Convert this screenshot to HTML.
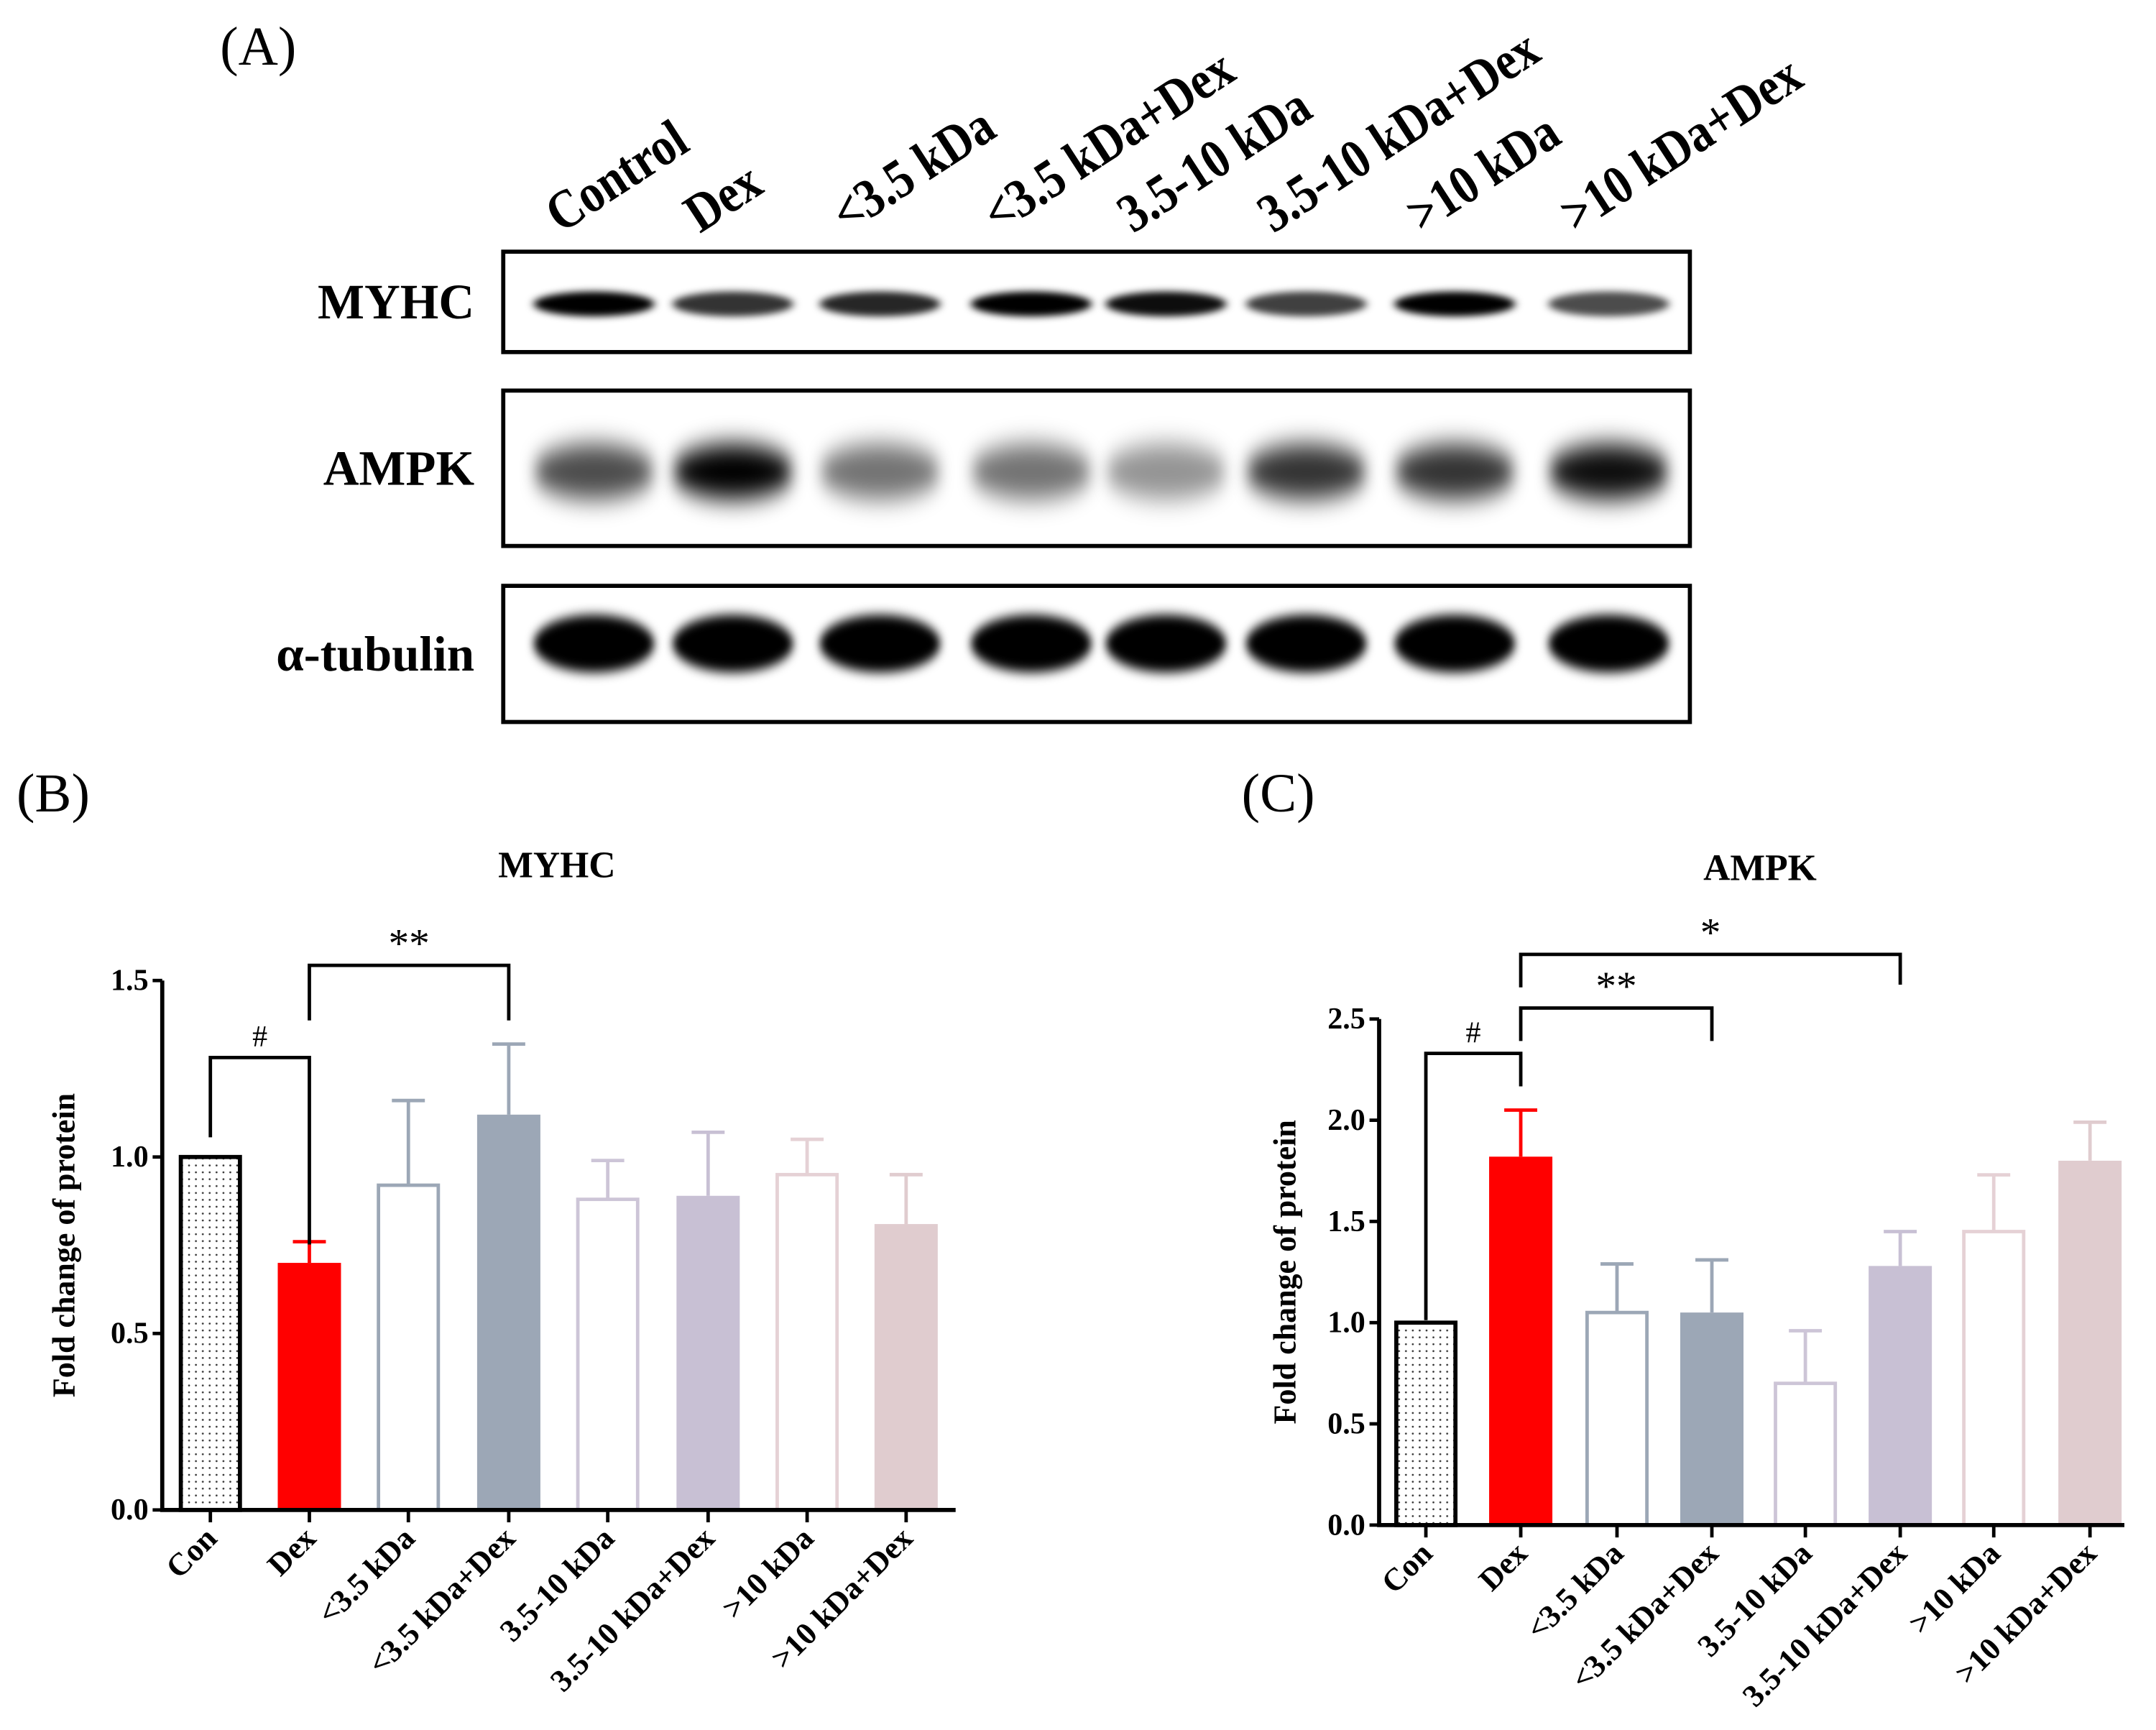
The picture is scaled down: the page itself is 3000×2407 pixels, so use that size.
<!DOCTYPE html>
<html><head><meta charset="utf-8"><style>
html,body{margin:0;padding:0;background:#fff}
svg{display:block}
text{font-family:"Liberation Serif","DejaVu Serif",serif}
</style></head><body>
<svg id="fig" width="3000" height="2407" viewBox="0 0 1568 1258" xmlns="http://www.w3.org/2000/svg">
<defs>
<pattern id="dots" width="5" height="5" patternUnits="userSpaceOnUse"><rect width="5" height="5" fill="#fff"/><circle cx="2.5" cy="2.5" r="0.7" fill="#333"/></pattern>
<filter id="b1" x="-50%" y="-200%" width="200%" height="500%"><feGaussianBlur stdDeviation="3 2.5"/></filter>
<filter id="b2" x="-50%" y="-100%" width="200%" height="300%"><feGaussianBlur stdDeviation="5 9"/></filter>
<filter id="b3" x="-50%" y="-100%" width="200%" height="300%"><feGaussianBlur stdDeviation="3 4"/></filter>
</defs>
<text x="160" y="47" font-size="40">(A)</text>
<text x="12" y="590" font-size="40">(B)</text>
<text x="903" y="590" font-size="40">(C)</text>
<g id="blot"></g>
<g id="chartB"></g>
<g id="chartC"></g>
</svg>
<script>
const NS="http://www.w3.org/2000/svg";
const categories=["Con","Dex","<3.5 kDa","<3.5 kDa+Dex","3.5-10 kDa","3.5-10 kDa+Dex",">10 kDa",">10 kDa+Dex"];
const laneLabels=["Control","Dex","<3.5 kDa","<3.5 kDa+Dex","3.5-10 kDa","3.5-10 kDa+Dex",">10 kDa",">10 kDa+Dex"];
const myhcMeans=[1.0,0.70,0.92,1.12,0.88,0.89,0.95,0.81];
const myhcErr=[0,0.06,0.24,0.20,0.11,0.18,0.10,0.14];
const ampkMeans=[1.0,1.82,1.05,1.05,0.70,1.28,1.45,1.80];
const ampkErr=[0,0.23,0.24,0.26,0.26,0.17,0.28,0.19];
const myhcTicks=[0,0.5,1.0,1.5];
const ampkTicks=[0,0.5,1.0,1.5,2.0,2.5];
const myhcBand=[1,0.8,0.85,1,0.95,0.75,1,0.7];
const ampkBand=[0.7,1,0.55,0.55,0.42,0.8,0.8,0.95];
const tubBand=[1,1,1,1,1,1,1,1];
const fills=["url(#dots)","#ff0000","#fff","#9ca7b6","#fff","#c8c0d4","#fff","#e0cccf"];
const strokes=["#000","#ff0000","#9ca7b6","#9ca7b6","#cdc5d7","#c8c0d4","#e5d1d5","#e0cccf"];
function el(p,t,a,txt){const e=document.createElementNS(NS,t);for(const k in a)e.setAttribute(k,a[k]);if(txt!==undefined)e.textContent=txt;p.appendChild(e);return e;}

const blot=document.getElementById('blot');
const lanes=[432,533,640,750,848,950,1058,1170];
const rows=[{n:"MYHC",y0:183,y1:256,by:221,h:9,f:'b1',vals:myhcBand},{n:"AMPK",y0:284,y1:397,by:343,h:20,f:'b2',vals:ampkBand},{n:"α-tubulin",y0:426,y1:525,by:468,h:21,f:'b3',vals:tubBand}];
rows.forEach((r,ri)=>{
  const g=el(blot,'g',{});
  
  
  el(g,'rect',{x:366,y:r.y0,width:863,height:r.y1-r.y0,fill:'#fff',stroke:'#000','stroke-width':3});
  const lb=el(g,'text',{x:345,y:(r.y0+r.y1)/2+12,'font-size':36,'font-weight':'bold','text-anchor':'end'},r.n);
  
  
  r.vals.forEach((v,i)=>{
    const b=el(g,'ellipse',{cx:lanes[i],cy:r.by,rx:44,ry:r.h,fill:'#000','fill-opacity':v,filter:'url(#'+r.f+')'});
    
    
  });
});
laneLabels.forEach((l,i)=>{
  const x0=lanes[i]-24,y0=170;
  const t=el(blot,'text',{x:x0,y:y0,'font-size':38,'font-weight':'bold',transform:`rotate(-33 ${x0} ${y0}) scale(0.88 1)`,style:`transform-origin:${x0}px ${y0}px`},l);
  t.removeAttribute('style');
  t.setAttribute('transform',`translate(${x0} ${y0}) rotate(-33) scale(0.9 1.05)`);
  t.setAttribute('x',0);t.setAttribute('y',0);
  
  
});

function chart(id,title,means,errs,ticks,ymax,ax,ay0,ay1,axEnd,centers,bw,brackets,titleX,titleY,ylabX){
  const g=document.getElementById(id);
  const y=v=>ay0-(v/ymax)*(ay0-ay1);
  const tt=el(g,'text',{x:titleX,y:titleY,'font-size':27,'font-weight':'bold','text-anchor':'middle'},title);
  
  
  const yl=el(g,'text',{x:ylabX,y:(ay0+ay1)/2,'font-size':23,'font-weight':'bold','text-anchor':'middle',transform:`rotate(-90 ${ylabX} ${(ay0+ay1)/2})`},'Fold change of protein');
  
  
  means.forEach((m,i)=>{
    const c=centers[i],top=y(m),et=y(m+errs[i]);
    const hollow=fills[i]==='#fff'||i===0;
    const sw=i===0?3:2.5;
    const r=el(g,'rect',{x:hollow?c-bw/2+sw/2:c-bw/2,y:top,width:hollow?bw-sw:bw,height:ay0-top,fill:fills[i],stroke:hollow?strokes[i]:'none','stroke-width':sw});
    
    
    if(errs[i]>0){
      const e=el(g,'path',{d:`M${c} ${top}V${et}M${c-12} ${et}H${c+12}`,stroke:strokes[i],'stroke-width':2.5,fill:'none'});
      
      
    }
    el(g,'line',{x1:c,y1:ay0,x2:c,y2:ay0+9,stroke:'#000','stroke-width':2.5});
    const xl=el(g,'text',{x:c+6,y:ay0+22,'font-size':23,'font-weight':'bold','text-anchor':'end',transform:`rotate(-45 ${c+6} ${ay0+22})`},categories[i]);
    
    
  });
  const axes=el(g,'path',{d:`M${ax} ${ay1}V${ay0}H${axEnd}`,stroke:'#000','stroke-width':3,fill:'none'});
  
  
  ticks.forEach(t=>{
    el(g,'line',{x1:ax-7,y1:y(t),x2:ax,y2:y(t),stroke:'#000','stroke-width':2.5});
    const tl=el(g,'text',{x:ax-10,y:y(t)+7,'font-size':22,'font-weight':'bold','text-anchor':'end'},t.toFixed(1));
    
    
  });
  brackets.forEach(b=>{
    const x1=centers[b.a],x2=centers[b.b];
    const p=el(g,'path',{d:`M${x1} ${b.y1}V${b.top}H${x2}V${b.y2}`,stroke:'#000','stroke-width':2.5,fill:'none'});
    
    
    const s=el(g,'text',{x:(x1+x2)/2,y:b.top-(b.s==='#'?8:6),'font-size':b.s==='#'?22:30,'text-anchor':'middle'},b.s);
    
    
  });
}
chart('chartB','MYHC',myhcMeans,myhcErr,myhcTicks,1.5,118,1098,713,695,
  [153,225,297,370,442,515,587,659],46,
  [{a:0,b:1,top:769,y1:827,y2:905,s:'#'},{a:1,b:3,top:702,y1:742,y2:742,s:'**'}],405,638,54);
chart('chartC','AMPK',ampkMeans,ampkErr,ampkTicks,2.5,1003,1109,741,1545,
  [1037,1106,1176,1245,1313,1382,1450,1520],46,
  [{a:0,b:1,top:766,y1:960,y2:790,s:'#'},{a:1,b:3,top:733,y1:757,y2:757,s:'**'},{a:1,b:5,top:694,y1:718,y2:716,s:'*'}],1280,640,942);
</script>
</body></html>
